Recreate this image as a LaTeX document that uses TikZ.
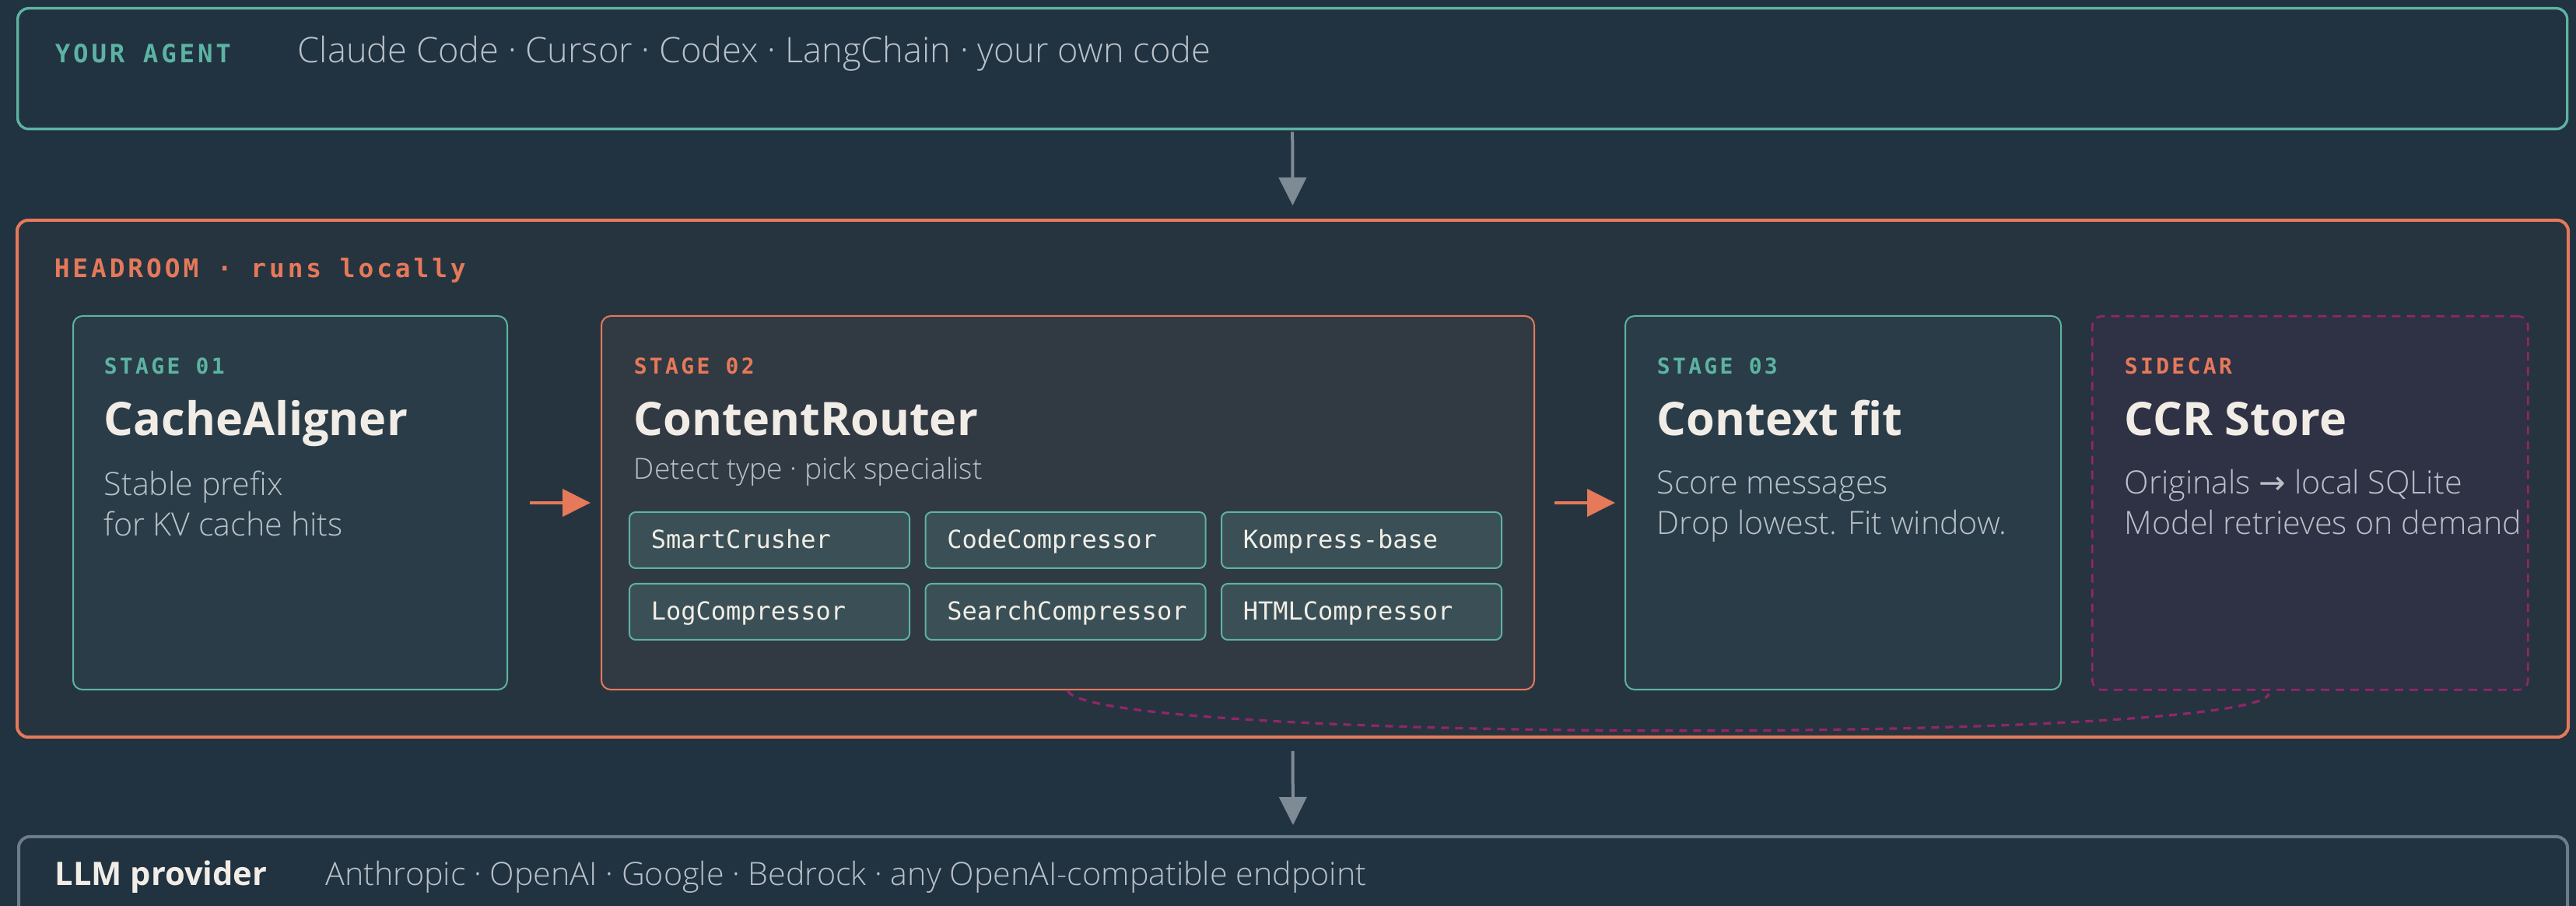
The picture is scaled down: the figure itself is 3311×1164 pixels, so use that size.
\documentclass[tikz,border=0pt]{standalone}
\usepackage{fontspec}
\setmainfont{Open Sans}
\newfontfamily\thinfont{Open Sans}[UprightFont=* Light]
\newfontfamily\tagfont[LetterSpace=12]{DejaVu Sans Mono}
\newfontfamily\codefont{DejaVu Sans Mono}
\newfontfamily\symfont{DejaVu Sans}
\usetikzlibrary{arrows.meta,calc}

\definecolor{bg}{HTML}{213241}
\definecolor{roomfill}{HTML}{26343F}
\definecolor{tealfill}{HTML}{293C47}
\definecolor{greyfill}{HTML}{313943}
\definecolor{carfill}{HTML}{2F3145}
\definecolor{pillfill}{HTML}{3A5056}
\definecolor{teal}{HTML}{5DB3A2}
\definecolor{coral}{HTML}{E5795A}
\definecolor{plum}{HTML}{92266A}
\definecolor{slate}{HTML}{7E8A94}
\definecolor{slateline}{HTML}{6E7C88}
\definecolor{cream}{HTML}{F1EDE6}
\definecolor{mist}{HTML}{B9C1C8}

\tikzset{
  panel/.style={anchor=north west, inner sep=0pt, rounded corners=3pt},
  stagebox/.style={panel, line width=0.5pt, minimum height=120pt},
  pill/.style={panel, draw=teal, fill=pillfill, line width=0.5pt,
    rounded corners=2pt, minimum width=90pt, minimum height=18pt},
  tag/.style={anchor=base west, inner sep=0pt, font=\tagfont\bfseries\fontsize{7}{8}\selectfont},
  title/.style={anchor=base west, inner sep=0pt, text=cream,
    font=\bfseries\fontsize{14.85}{18}\selectfont},
  body/.style={anchor=base west, inner sep=0pt, text=mist,
    font=\thinfont\fontsize{10.3}{12}\selectfont},
  code/.style={anchor=base west, inner sep=0pt, text=cream,
    font=\codefont\fontsize{8}{9}\selectfont},
  flow/.style={-{Triangle[length=9pt,width=8.75pt]}, line width=1pt},
}

\begin{document}
\begin{tikzpicture}[x=0.25pt,y=-0.25pt]
  \useasboundingbox (0,0) rectangle (3311,1164);
  \clip (0,0) rectangle (3311,1164);
  \fill[bg] (0,0) rectangle (3311,1164);

  % agent row
  \node[panel, draw=teal, fill=bg, line width=0.85pt, rounded corners=3.5pt,
    minimum width=819.25pt, minimum height=38.75pt] (agent) at (21,9) {};
  \node[tag, text=teal, font=\tagfont\bfseries\fontsize{8.1}{9}\selectfont] (agenttag) at (70,81) {YOUR AGENT};
  \node[body, font=\thinfont\fontsize{11.3}{12}\selectfont] (agentlist) at (382,81)
    {Claude Code · Cursor · Codex · LangChain · your own code};

  % headroom frame
  \node[panel, draw=coral, fill=roomfill, line width=1pt, rounded corners=3.5pt,
    minimum width=819.75pt, minimum height=166pt] (headroom) at (20,281) {};
  \node[tag, text=coral, font=\tagfont\bfseries\fontsize{8.2}{9}\selectfont] (roomtag) at (69,357)
    {HEADROOM · runs locally};

  % stages
  \node[stagebox, draw=teal, fill=tealfill, minimum width=139.5pt] (s1) at (93,405) {};
  \node[stagebox, draw=coral, fill=greyfill, minimum width=299.75pt] (s2) at (772,405) {};
  \node[stagebox, draw=teal, fill=tealfill, minimum width=140pt] (s3) at (2088,405) {};
  \node[stagebox, draw=plum, fill=carfill, minimum width=140pt,
    dash pattern=on 2.75pt off 2pt, line width=0.65pt] (ccr) at (2688,405) {};

  \node[tag, text=teal] (s1tag) at (133,481) {STAGE 01};
  \node[title] (s1title) at (133,560) {CacheAligner};
  \node[body] (s1a) at (133,637) {Stable prefix};
  \node[body] (s1b) at (133,689) {for KV cache hits};

  \node[tag, text=coral] (s2tag) at (814,481) {STAGE 02};
  \node[title] (s2title) at (814,560) {ContentRouter};
  \node[body, font=\thinfont\fontsize{9.3}{10}\selectfont] (s2sub) at (814,616)
    {Detect type · pick specialist};

  \node[tag, text=teal] (s3tag) at (2129,481) {STAGE 03};
  \node[title] (s3title) at (2129,560) {Context fit};
  \node[body] (s3a) at (2129,635) {Score messages};
  \node[body] (s3b) at (2129,687) {Drop lowest. Fit window.};

  \node[tag, text=coral] (ccrtag) at (2730,481) {SIDECAR};
  \node[title] (ccrtitle) at (2730,560) {CCR Store};
  \node[body] (ccra) at (2730,635) {Originals {\symfont →} local SQLite};
  \node[body] (ccrb) at (2730,687) {Model retrieves on demand};

  % compressors
  \foreach \name/\col/\row [count=\i] in {SmartCrusher/0/0, CodeCompressor/1/0,
      Kompress-base/2/0, LogCompressor/0/1, SearchCompressor/1/1, HTMLCompressor/2/1}
  {
    \node[pill] (p\i) at (808+380.5*\col,657+92*\row) {};
    \node[code] (p\i text) at (836+380.5*\col,705+92*\row) {\name};
  }

  % provider row
  \node[panel, draw=slateline, fill=bg, line width=1pt, rounded corners=3.5pt,
    minimum width=819pt, minimum height=40pt] (llm) at (22,1073) {};
  \node[body, text=cream, font=\bfseries\fontsize{10.4}{12}\selectfont] (llmname) at (70,1137) {LLM provider};
  \node[body, font=\thinfont\fontsize{10.3}{12}\selectfont] (llmlist) at (418,1137)
    {Anthropic · OpenAI · Google · Bedrock · any OpenAI-compatible endpoint};

  % connectors
  \draw[flow, slate, shorten <=0.5pt, shorten >=4.25pt] (agent.south) -- (headroom.north);
  \draw[flow, slate, shorten <=4pt, shorten >=3.25pt] (headroom.south) -- (llm.north);
  \draw[flow, coral, shorten <=7pt, shorten >=3.25pt] (s1.east) -- (s2.west);
  \draw[flow, coral, shorten <=6.25pt, shorten >=3pt] (s2.east) -- (s3.west);
  \draw[plum, line width=0.8pt, dash pattern=on 2.5pt off 2pt]
    (s2.south) .. controls +(18,68) and +(-20,64) .. ($(ccr.south)+(-53,4)$);
\end{tikzpicture}
\end{document}
